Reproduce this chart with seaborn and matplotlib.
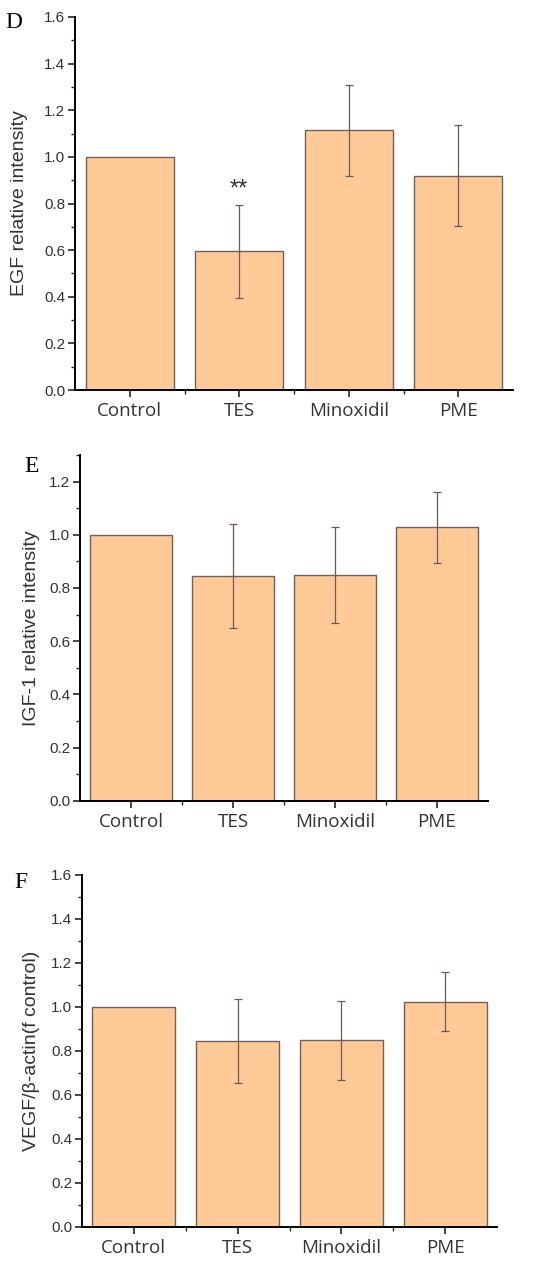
import matplotlib
matplotlib.use("Agg")
import matplotlib.pyplot as plt
import numpy as np
import pandas as pd
import seaborn as sns
from matplotlib.ticker import MultipleLocator, FixedLocator

sns.set_style("ticks")
plt.rcParams["font.family"] = ["Liberation Sans", "DejaVu Sans"]

# values
categories = ["Control", "TES", "Minoxidil", "PME"]

egf_mean = [1.0, 0.595, 1.115, 0.92]
egf_err = [np.nan, 0.20, 0.195, 0.215]

igf_mean = [1.0, 0.845, 0.85, 1.028]
igf_err = [np.nan, 0.195, 0.18, 0.134]

vegf_mean = [1.0, 0.845, 0.848, 1.024]
vegf_err = [np.nan, 0.193, 0.181, 0.134]

BAR_COLOR = "#FFCA98"
EDGE_COLOR = "#6f625c"
ERR_COLOR = "#6e5a55"
TEXT_COLOR = "#333333"


def draw_panel(ax, means, errs, ylabel, letter, ymax, n_major, label_x, letter_xy):
    df = pd.DataFrame({"group": categories, "value": means})
    sns.barplot(data=df, x="group", y="value", color=BAR_COLOR, width=0.8,
                edgecolor=EDGE_COLOR, linewidth=1.0, saturation=1, ax=ax)
    ax.errorbar(np.arange(len(categories)), means, yerr=errs, fmt="none",
                ecolor=ERR_COLOR, elinewidth=0.9, capsize=3, capthick=0.9)

    ax.set_xlim(-0.5, len(categories) - 0.5)
    ax.set_ylim(0, ymax)
    ax.yaxis.set_major_locator(FixedLocator(np.round(np.arange(n_major) * 0.2, 1)))
    ax.yaxis.set_minor_locator(MultipleLocator(0.1))
    ax.xaxis.set_minor_locator(FixedLocator([0.5, 1.5, 2.5]))
    ax.yaxis.set_major_formatter(plt.FuncFormatter(lambda v, p: f"{v:.1f}"))

    for side in ["top", "right"]:
        ax.spines[side].set_visible(False)
    for side in ["left", "bottom"]:
        ax.spines[side].set_linewidth(1.4)
        ax.spines[side].set_color("black")

    ax.tick_params(axis="y", which="major", direction="out", length=5, width=1.2,
                   labelsize=11, labelcolor=TEXT_COLOR, pad=2)
    ax.tick_params(axis="y", which="minor", direction="out", length=3, width=1.0)
    ax.tick_params(axis="x", which="major", direction="out", length=5, width=1.2,
                   labelsize=13.5, labelcolor=TEXT_COLOR, pad=4)
    ax.tick_params(axis="x", which="minor", direction="out", length=3, width=1.0)
    for lab in ax.get_xticklabels():
        lab.set_fontfamily(["Open Sans", "DejaVu Sans"])

    ax.set_xlabel("")
    ax.set_ylabel(ylabel, fontsize=14, color=TEXT_COLOR)
    ax.yaxis.set_label_coords(label_x, 0.5)
    ax.figure.text(letter_xy[0], letter_xy[1], letter, fontsize=17,
                   family=["Liberation Serif", "DejaVu Serif"],
                   ha="center", va="center", color="black")


fig = plt.figure(figsize=(5.5, 12.69), dpi=100)
W, H = 550, 1269

ax_d = fig.add_axes([75 / W, 1 - 390 / H, 438 / W, 373 / H])
draw_panel(ax_d, egf_mean, egf_err, "EGF relative intensity", "D", 1.6, 9,
           -0.107, (14 / W, 1 - 22 / H))
ax_d.text(1, 0.86, "**", ha="center", va="center", fontsize=17, color=TEXT_COLOR)

ax_e = fig.add_axes([80 / W, 1 - 800.7 / H, 408 / W, 345.7 / H])
draw_panel(ax_e, igf_mean, igf_err, "IGF-1 relative intensity", "E", 1.3, 7,
           -0.098, (32 / W, 1 - 467 / H))

ax_f = fig.add_axes([82 / W, 1 - 1226.7 / H, 415 / W, 351.7 / H])
draw_panel(ax_f, vegf_mean, vegf_err, "VEGF/β-actin(f control)", "F", 1.6, 9,
           -0.101, (21 / W, 1 - 883 / H))

fig.savefig("out.png", dpi=100, facecolor="white")
